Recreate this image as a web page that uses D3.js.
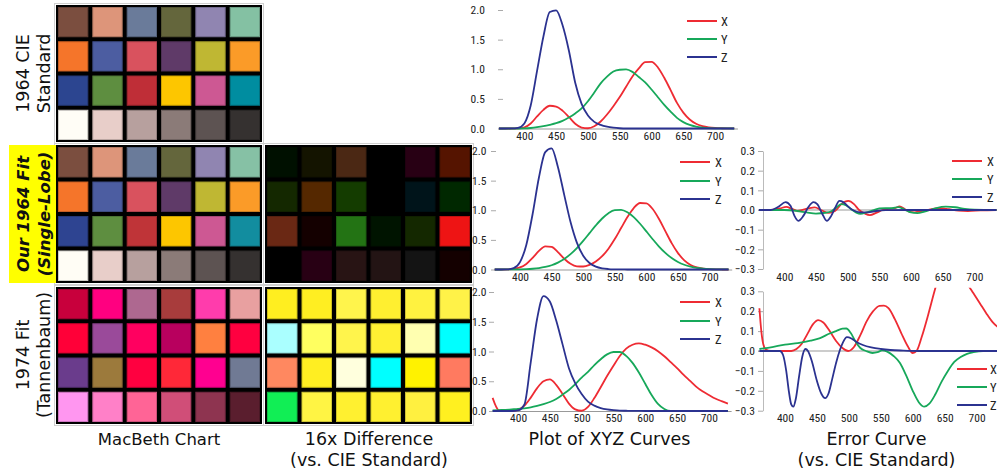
<!DOCTYPE html>
<html><head><meta charset="utf-8">
<script src="https://cdn.jsdelivr.net/npm/d3@7"></script>
<style>
html,body{margin:0;padding:0;background:#fff;}
svg{display:block;}
.cap{font-family:"DejaVu Sans",sans-serif;fill:#111;}
.tick text,.leg{font-family:"Liberation Sans Narrow","Roboto Condensed","DejaVu Sans Condensed",sans-serif;font-size:11.5px;fill:#222;}
.leg{font-size:12.5px;}
</style></head><body>
<svg id="chart" width="997" height="474"></svg>
<script>
// ---------------- DATA ----------------
const wavelengths = [360,370,380,390,400,410,420,430,440,450,460,470,480,490,500,510,520,530,540,550,560,570,580,590,600,610,620,630,640,650,660,670,680,690,700,710,720,730];

// CIE 1964 standard observer (row 1)
const cieX = [0,0,0.0002,0.0024,0.0191,0.0847,0.2045,0.3147,0.3837,0.3707,0.3023,0.1956,0.0805,0.0162,0.0038,0.0375,0.1177,0.2365,0.3768,0.5298,0.7052,0.8787,1.0142,1.1185,1.1240,1.0305,0.8563,0.6475,0.4316,0.2683,0.1526,0.0813,0.0409,0.0199,0.0096,0.0046,0.0022,0.0010];
const cieY = [0,0,0,0.0003,0.0020,0.0088,0.0214,0.0387,0.0621,0.0895,0.1282,0.1852,0.2536,0.3391,0.4608,0.6067,0.7618,0.8752,0.9620,0.9918,0.9973,0.9556,0.8689,0.7774,0.6583,0.5280,0.3981,0.2835,0.1798,0.1076,0.0603,0.0318,0.0159,0.0077,0.0037,0.0018,0.0008,0.0004];
const cieZ = [0,0,0.0007,0.0105,0.0860,0.3894,0.9725,1.5535,1.9673,1.9948,1.7454,1.3176,0.7721,0.4153,0.2185,0.1120,0.0607,0.0305,0.0137,0.0040,0,0,0,0,0,0,0,0,0,0,0,0,0,0,0,0,0,0];

// Our 1964 fit, single lobe (row 2)
const fitX = [0,0.0003,0.0020,0.0096,0.0344,0.0938,0.1955,0.3137,0.3910,0.3812,0.2938,0.1818,0.0955,0.0534,0.0503,0.0779,0.1346,0.2241,0.3510,0.5134,0.6993,0.8850,1.0374,1.1224,1.1175,1.0203,0.8513,0.6465,0.4452,0.2768,0.1548,0.0774,0.0344,0.0136,0.0047,0.0014,0.0004,0.0001];
const fitY = [0.0001,0.0003,0.0007,0.0015,0.0033,0.0067,0.013,0.024,0.043,0.072,0.116,0.177,0.260,0.362,0.483,0.614,0.744,0.861,0.951,1.002,1.007,0.966,0.884,0.772,0.643,0.511,0.387,0.280,0.194,0.127,0.080,0.048,0.027,0.015,0.0078,0.0038,0.0018,0.0008];
const fitZ = [0,0.0001,0.0026,0.0238,0.125,0.414,0.937,1.552,1.981,2.045,1.731,1.260,0.801,0.454,0.233,0.110,0.048,0.0195,0.0075,0.0028,0.001,0.0003,0.0001,0,0,0,0,0,0,0,0,0,0,0,0,0,0,0];

// 1974 fit, Tannenbaum (row 3)
const tanX = [0.22,0.01,0,0.002,0.02,0.09,0.225,0.385,0.50,0.53,0.44,0.285,0.125,0.028,0.004,0.068,0.218,0.40,0.587,0.76,0.925,1.049,1.114,1.138,1.114,1.07,1.006,0.92,0.82,0.72,0.61,0.51,0.41,0.33,0.27,0.21,0.165,0.125];
const tanY = [0.01,0.015,0.02,0.027,0.034,0.045,0.061,0.085,0.114,0.152,0.203,0.275,0.354,0.451,0.561,0.657,0.772,0.87,0.952,0.992,0.992,0.926,0.809,0.647,0.458,0.268,0.118,0.033,0,0,0,0,0,0,0,0,0,0];
const tanZ = [0,0,0,0,0.009,0.11,0.82,1.55,1.93,1.84,1.52,1.12,0.72,0.465,0.284,0.157,0.09,0.05,0.027,0.014,0.006,0.004,0.002,0.001,0,0,0,0,0,0,0,0,0,0,0,0,0,0];

// Error curves vs. CIE standard: [wavelength, error]
const errFitX = [[360,0],[380,0.001],[393,0.008],[403,0.016],[412,0.006],[420,-0.004],[430,0.002],[440,0.01],[448,0.013],[458,0.0],[470,-0.015],[480,-0.005],[490,0.03],[501,0.046],[510,0.03],[518,0.0],[527,-0.018],[535,-0.026],[545,-0.015],[555,0.0],[565,0.006],[575,0.01],[582,0.018],[590,0.005],[597,-0.008],[605,-0.012],[615,-0.006],[625,0.0],[645,0.01],[660,0.004],[675,-0.003],[690,-0.005],[710,-0.002],[735,0]];
const errFitY = [[360,0],[400,0],[420,-0.005],[435,-0.012],[450,-0.018],[465,-0.014],[475,-0.005],[483,0.015],[490,0.03],[497,0.025],[505,0.005],[513,-0.012],[520,-0.02],[530,-0.012],[540,-0.002],[550,0.008],[560,0.01],[570,0.01],[580,0.015],[590,0.002],[600,-0.012],[610,-0.016],[620,-0.01],[630,0.0],[640,0.01],[655,0.017],[670,0.014],[685,0.006],[700,0.002],[735,0]];
const errFitZ = [[360,0],[378,0],[390,0.015],[402,0.04],[410,0.02],[416,-0.03],[422,-0.055],[430,-0.03],[438,0.015],[446,0.04],[452,0.03],[460,-0.02],[467,-0.055],[474,-0.03],[480,0.01],[487,0.046],[493,0.04],[500,0.02],[508,0.0],[520,-0.012],[532,-0.012],[545,-0.005],[560,-0.001],[600,0],[735,0]];
const errTanX = [[360,0.215],[363,0.1],[366,0.035],[370,0.008],[378,0],[410,0],[418,0.01],[426,0.035],[435,0.085],[444,0.135],[452,0.155],[460,0.143],[470,0.1],[480,0.05],[490,0.015],[499,0],[508,0.02],[518,0.08],[528,0.15],[538,0.2],[548,0.227],[555,0.228],[562,0.215],[572,0.16],[582,0.09],[592,0.025],[600,-0.01],[606,0.0],[614,0.07],[624,0.18],[634,0.3],[645,0.42],[655,0.46],[665,0.45],[675,0.4],[685,0.34],[695,0.29],[705,0.24],[715,0.19],[725,0.145],[735,0.115]];
const errTanY = [[360,0.01],[380,0.02],[400,0.032],[420,0.04],[440,0.052],[455,0.065],[470,0.088],[480,0.1],[490,0.112],[496,0.113],[503,0.09],[510,0.05],[518,0.015],[527,0.0],[537,-0.01],[545,-0.006],[552,0.003],[560,-0.003],[570,-0.025],[580,-0.06],[590,-0.125],[600,-0.2],[610,-0.26],[618,-0.28],[626,-0.265],[635,-0.22],[645,-0.155],[655,-0.1],[665,-0.055],[675,-0.03],[685,-0.014],[695,-0.006],[710,0],[735,0]];
const errTanZ = [[360,0],[392,0],[397,-0.02],[402,-0.1],[406,-0.2],[410,-0.27],[413,-0.28],[417,-0.24],[422,-0.13],[427,-0.03],[432,0.01],[436,0.0],[442,-0.05],[450,-0.15],[457,-0.215],[463,-0.237],[468,-0.215],[474,-0.14],[480,-0.06],[486,0.005],[491,0.045],[497,0.07],[504,0.063],[512,0.045],[522,0.03],[535,0.018],[550,0.01],[565,0.005],[585,0.002],[610,0],[735,0]];

// MacBeth chart swatches (row-major, 6 x 4)
const macbethCIE = ["#7b4e3f","#dd957a","#6a7b9a","#64663c","#9085b1","#84c1a3","#f5752a","#4c5da1","#d9525e","#5f3a68","#bfb733","#fb9b28","#2c4590","#5e8e40","#bf2e37","#fdc600","#cd5893","#008da0","#fffdf6","#e8cec9","#b7a09e","#8b7b78","#5d5352","#353130"];
const macbethFit = ["#7b4e3f","#dd957a","#6a7b9a","#64663c","#9085b1","#86c1a5","#f5752a","#4c5da1","#d9525e","#5f3a68","#bfb733","#fb9b28","#2e4491","#5e8e40","#bf3438","#fdc600","#cd5893","#128d9f","#fffdf5","#e8cec9","#b7a09e","#8b7b78","#5d5352","#353130"];
const macbethTan = ["#c8003c","#ff0080","#ae6890","#a83c3c","#ff3cac","#e8a0a0","#ff0038","#9a4a9a","#ff0060","#b8005e","#ff8040","#ff0040","#6a3c8c","#9c7a3c","#ff0040","#ff2838","#ff0090","#707a94","#ff96f0","#ff80c8","#ff6496","#d04e78","#8e3450","#5a1e2e"];
const diffFit = ["#001000","#141400","#4b2814","#000000","#280014","#551400","#142800","#552800","#143c00","#000000","#00141a","#002800","#6a2814","#140000","#237314","#001400","#142800","#ee1414","#000000","#280014","#281414","#231414","#141414","#140000"];
const diffTan = ["#ffee20","#ffee22","#fff44c","#ffef30","#fff240","#fff248","#aaffff","#ffff60","#fff44c","#fff033","#ffffb0","#00ffff","#ff8860","#ffee22","#ffffdd","#00ffff","#fff200","#ff7a60","#11ee55","#fff444","#fff030","#fff030","#fff040","#fff020"];

const xTicks = [400,450,500,550,600,650,700];
const yTicksXYZ = [0,0.5,1,1.5,2];
const yTicksErr = [-0.3,-0.2,-0.1,0,0.1,0.2,0.3];
const seriesNames = ["X","Y","Z"];
const seriesColors = ["#ee2b33","#17a85a","#2b3290"];
const rowLabels = [["1964 CIE","Standard"],["Our 1964 Fit","(Single-Lobe)"],["1974 Fit","(Tannenbaum)"]];
const colLabels = [["MacBeth Chart"],["16x Difference","(vs. CIE Standard)"],["Plot of XYZ Curves"],["Error Curve","(vs. CIE Standard)"]];

// ---------------- DRAW ----------------
const svg = d3.select('#chart');

function grid(colors, x0, x1, y0, y1) {
  const g = svg.append('g');
  const xs = d3.scaleBand().domain(d3.range(6)).range([x0, x1]);
  const ys = d3.scaleBand().domain(d3.range(4)).range([y0, y1]);
  g.append('rect').attr('x', x0 - 1.5).attr('y', y0 - 1.5).attr('width', x1 - x0 + 3).attr('height', y1 - y0 + 3)
    .attr('fill', 'none').attr('stroke', '#d0d0d0').attr('stroke-width', 1);
  g.append('rect').attr('x', x0).attr('y', y0).attr('width', x1 - x0).attr('height', y1 - y0).attr('fill', '#000');
  g.selectAll('rect.cell').data(colors).join('rect').attr('class', 'cell')
    .attr('x', (d, i) => xs(i % 6) + 2.5).attr('y', (d, i) => ys(Math.floor(i / 6)) + 2.5)
    .attr('width', xs.bandwidth() - 5).attr('height', ys.bandwidth() - 5)
    .attr('fill', d => d).attr('stroke', d => d3.color(d).darker(0.6)).attr('stroke-width', 1);
}

grid(macbethCIE, 56, 262, 5, 142);
grid(macbethFit, 56, 262, 145, 283);
grid(macbethTan, 56, 262, 287, 424);
grid(diffFit, 265, 472, 145, 283);
grid(diffTan, 265, 472, 287, 424);

function legend(g, lx1, lx2, tx, ys) {
  seriesNames.forEach((n, k) => {
    g.append('line').attr('x1', lx1).attr('x2', lx2).attr('y1', ys[k]).attr('y2', ys[k])
      .attr('stroke', seriesColors[k]).attr('stroke-width', 2);
    g.append('text').attr('class', 'leg').attr('x', tx).attr('y', ys[k]).attr('dy', '0.36em').text(n);
  });
}

function xyzPlot(series, c) {
  const x = d3.scaleLinear().domain([360, 735]).range(c.xr);
  const y = d3.scaleLinear().domain([0, 2]).range(c.yr);
  const g = svg.append('g');
  g.append('g').attr('transform', `translate(0,${c.yr[0]})`)
    .call(d3.axisBottom(x).tickValues(xTicks).tickSize(0).tickPadding(c.xpad).tickFormat(d3.format('d')))
    .call(a => a.select('.domain').attr('stroke', '#999'));
  g.append('g').attr('transform', `translate(${c.ax},0)`)
    .call(d3.axisLeft(y).tickValues(yTicksXYZ).tickSize(-5).tickPadding(c.ypad).tickFormat(d3.format('.1f')))
    .call(a => { a.select('.domain').remove(); a.selectAll('.tick line').attr('stroke', '#aaa'); });
  const line = d3.line().x((d, i) => x(wavelengths[i])).y(d => y(d)).curve(d3.curveMonotoneX);
  series.forEach((s, k) => g.append('path').attr('d', line(s)).attr('fill', 'none')
    .attr('stroke', seriesColors[k]).attr('stroke-width', 1.8));
  legend(g, c.lx1, c.lx2, c.tx, c.ly);
}

xyzPlot([cieX, cieY, cieZ], {xr: [498.9, 737.4], yr: [128.5, 10], xpad: 3.6, ax: 498, ypad: 13,
  lx1: 687, lx2: 717, tx: 721, ly: [21, 39, 57]});
xyzPlot([fitX, fitY, fitZ], {xr: [494.7, 731.7], yr: [269.5, 151], xpad: 3.6, ax: 491, ypad: 4.5,
  lx1: 680, lx2: 710, tx: 715, ly: [162, 181, 199]});
xyzPlot([tanX, tanY, tanZ], {xr: [492.6, 731.1], yr: [411, 292], xpad: 3.2, ax: 489, ypad: 2.5,
  lx1: 680, lx2: 710, tx: 715, ly: [302, 321, 339]});

let clipN = 0;
function errPlot(series, c) {
  const x = d3.scaleLinear().domain([360, 735]).range(c.xr);
  const y = d3.scaleLinear().domain([-0.3, 0.3]).range(c.yr);
  const g = svg.append('g');
  const id = 'clip' + (clipN++);
  svg.append('clipPath').attr('id', id).append('rect')
    .attr('x', 740).attr('y', c.yr[1] - 3.5).attr('width', 260).attr('height', c.yr[0] - c.yr[1] + 20);
  g.append('g').attr('transform', `translate(0,${c.yr[0]})`)
    .call(d3.axisBottom(x).tickValues(xTicks).tickSize(0).tickPadding(c.xpad).tickFormat(d3.format('d')))
    .call(a => a.select('.domain').remove());
  g.append('g').attr('transform', `translate(${c.ax},0)`)
    .call(d3.axisLeft(y).tickValues(yTicksErr).tickSize(5).tickSizeOuter(0).tickPadding(3).tickFormat(d3.format('.1f')))
    .call(a => { a.select('.domain').attr('stroke', '#bbb'); a.selectAll('.tick line').attr('stroke', '#aaa'); });
  g.append('line').attr('x1', c.ax - 5).attr('x2', 997).attr('y1', y(0)).attr('y2', y(0))
    .attr('stroke', '#999').attr('stroke-width', 1);
  const line = d3.line().x(d => x(d[0])).y(d => y(d[1])).curve(d3.curveMonotoneX);
  const cg = g.append('g').attr('clip-path', `url(#${id})`);
  series.forEach((s, k) => cg.append('path').attr('d', line(s)).attr('fill', 'none')
    .attr('stroke', seriesColors[k]).attr('stroke-width', 1.8));
  legend(g, c.lx1, c.lx2, c.tx, c.ly);
}

errPlot([errFitX, errFitY, errFitZ], {xr: [759, 996.5], yr: [269, 151], xpad: 3.6, ax: 763,
  lx1: 952, lx2: 982, tx: 987, ly: [161, 179, 197]});
errPlot([errTanX, errTanY, errTanZ], {xr: [759.4, 999], yr: [410.7, 291.3], xpad: 3, ax: 763,
  lx1: 957, lx2: 987, tx: 990, ly: [369, 387, 405]});

// row labels
svg.append('rect').attr('x', 9).attr('y', 145).attr('width', 47).attr('height', 138).attr('fill', '#ffff00');
const rowCenters = [73.5, 214, 355];
rowLabels.forEach((lines, r) => {
  lines.forEach((t, j) => {
    const txt = svg.append('text').attr('class', 'cap')
      .attr('transform', `translate(${j === 0 ? 28.5 : 49.5},${rowCenters[r]}) rotate(-90)`)
      .attr('text-anchor', 'middle').style('font-size', '17.5px').text(t);
    if (r === 1) txt.style('font-weight', 'bold').style('font-style', 'italic').style('font-size', '16.5px');
  });
});

// column captions
const colCenters = [159, 369, 609.5, 876.5];
colLabels.forEach((lines, c) => {
  lines.forEach((t, j) => {
    svg.append('text').attr('class', 'cap').attr('x', colCenters[c]).attr('y', j === 0 ? 445 : 466)
      .attr('text-anchor', 'middle').style('font-size', c === 0 ? '16.5px' : '17.5px').text(t);
  });
});
</script>
</body></html>
